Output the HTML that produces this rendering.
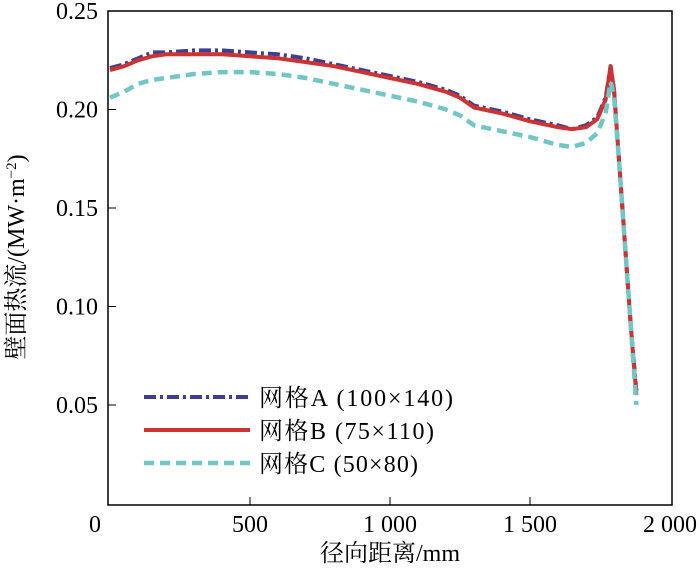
<!DOCTYPE html>
<html><head><meta charset="utf-8"><style>
body{margin:0;background:#fff}
svg text{font-family:"Liberation Serif","Noto Serif CJK SC",serif;fill:#000}
</style></head><body>
<svg width="700" height="571">
<g id="g"></g>
</svg>
<script>
const xs=[0,50,100,150,200,300,400,500,600,700,800,900,1000,1100,1200,1250,1300,1400,1500,1600,1650,1700,1740,1770,1788,1800,1820,1840,1860,1880];
const seriesA=[.221,.223,.226,.229,.229,.230,.230,.229,.228,.226,.223,.220,.217,.214,.210,.207,.202,.199,.195,.192,.190,.192,.196,.206,.222,.210,.17,.13,.09,.057];
const seriesB=[.220,.222,.225,.227,.228,.228,.228,.227,.226,.224,.222,.219,.216,.213,.209,.206,.201,.198,.194,.191,.190,.191,.195,.205,.222,.210,.17,.13,.09,.055];
const seriesC=[.206,.209,.213,.215,.216,.218,.219,.219,.218,.216,.213,.210,.207,.204,.200,.197,.192,.189,.186,.182,.181,.183,.188,.198,.214,.207,.17,.13,.09,.050];
const xTicks=[0,500,1000,1500,2000];
const xTickLabels=["0","500","1 000","1 500","2 000"];
const yTicks=[0.05,0.10,0.15,0.20,0.25];
const yTickLabels=["0.05","0.10","0.15","0.20","0.25"];
const legendLabels=["网格A (100×140)","网格B (75×110)","网格C (50×80)"];
const L=108,R=672,T=11,B=505;
const X=v=>110+(v/1000)*280;
const Y=v=>503.5-(v/0.25)*492.5;
const g=document.getElementById('g');
const NS='http://www.w3.org/2000/svg';
function mk(t,a){const e=document.createElementNS(NS,t);for(const k in a)e.setAttribute(k,a[k]);g.appendChild(e);return e;}
let fr=mk('rect',{x:L,y:T,width:R-L,height:B-T,fill:'none',stroke:'#000','stroke-width':1.5});


xTicks.forEach((v,i)=>{
 if(v>0&&v<2000){
 let t=mk('line',{x1:X(v),x2:X(v),y1:B,y2:B-8,stroke:'#000'});
 
 }
 let l=mk('text',{x:X(v)-(v===0?15:0),y:532,'text-anchor':'middle','font-size':24});
 l.textContent=xTickLabels[i];
 
 
});
yTicks.forEach((v,i)=>{
 let t=mk('line',{x1:L,x2:L+8,y1:Y(v),y2:Y(v),stroke:'#000'});
 
 
 let l=mk('text',{x:98,y:Y(v)+8,'text-anchor':'end','font-size':24});
 l.textContent=yTickLabels[i];
 
 
});
const styles=[['#3c3f95','12,4,3,4',4,seriesA,'series-a'],['#cc3333','',4,seriesB,'series-b'],['#73c6c6','10,6',4.5,seriesC,'series-c']];
styles.forEach((s,i)=>{
 const d=xs.map((x,j)=>(j?'L':'M')+X(x).toFixed(1)+','+Y(s[3][j]).toFixed(1)).join('');
 let p=mk('path',{d:d,fill:'none',stroke:s[0],'stroke-width':s[2],'stroke-dasharray':s[1],'stroke-linejoin':'round'});
 
 
 const ly=397+i*33;
 let ll=mk('line',{x1:144,x2:250,y1:ly,y2:ly,stroke:s[0],'stroke-width':s[2],'stroke-dasharray':s[1]});
 
 
 let lt=mk('text',{x:259,y:ly+9,'font-size':24,textLength:[194,175,159][i]});
 lt.textContent=legendLabels[i];
 
 
});
let xt=mk('text',{x:390,y:561,'text-anchor':'middle','font-size':24});
xt.textContent='径向距离/mm';


let yt=mk('text',{x:0,y:0,'text-anchor':'middle','font-size':24,transform:'translate(24,257) rotate(-90)'});
yt.innerHTML='壁面热流/(MW·m<tspan dy="-8" font-size="15">−2</tspan><tspan dy="8">)</tspan>';


</script>
</body></html>
